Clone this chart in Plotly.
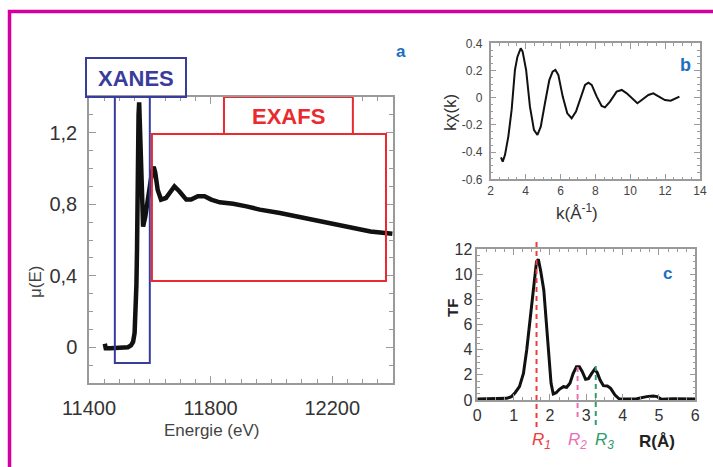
import plotly.graph_objects as go

# ---------------- data ----------------
# panel a : absorption spectrum
energy = [11452, 11455, 11470, 11500, 11520, 11528, 11538, 11545, 11550, 11554, 11556, 11558,
          11560, 11563, 11565, 11567, 11572, 11576, 11578, 11585, 11593, 11600, 11607, 11613,
          11618, 11626, 11637, 11653, 11670, 11681, 11697, 11720, 11736, 11758, 11780, 11802,
          11830, 11874, 11918, 11962, 12028, 12105, 12182, 12260, 12326, 12398]
mu = [0.02, -0.005, -0.005, -0.005, -0.004, 0.0, 0.01, 0.03, 0.08, 0.2, 0.35, 0.55,
      1.07, 1.3, 1.37, 1.24, 0.96, 0.713, 0.675, 0.73, 0.826, 0.9, 0.977, 1.01,
      0.977, 0.88, 0.826, 0.835, 0.873, 0.9, 0.873, 0.826, 0.826, 0.845, 0.845, 0.826,
      0.811, 0.803, 0.788, 0.77, 0.751, 0.723, 0.695, 0.667, 0.648, 0.635]

# panel b : k-weighted EXAFS oscillations
k_vals = [2.59, 2.69, 2.82, 3.01, 3.2, 3.39, 3.53, 3.72, 3.83, 4.03, 4.25, 4.48, 4.68, 4.87,
          5.11, 5.36, 5.55, 5.71, 5.88, 6.13, 6.39, 6.64, 6.89, 7.16, 7.41, 7.6, 7.79, 8.08,
          8.36, 8.55, 8.84, 9.22, 9.51, 9.8, 10.18, 10.41, 10.66, 11.04, 11.32, 11.61, 11.99,
          12.32, 12.57, 12.82]
kchi = [-0.438, -0.47, -0.42, -0.286, -0.09, 0.204, 0.30, 0.363, 0.339, 0.204, -0.066, -0.237,
        -0.274, -0.213, -0.041, 0.13, 0.192, 0.204, 0.167, 0.008, -0.115, -0.151, -0.102, 0.008,
        0.094, 0.111, 0.094, 0.008, -0.061, -0.071, -0.029, 0.045, 0.057, 0.032, -0.017, -0.041,
        -0.017, 0.02, 0.032, 0.013, -0.017, -0.022, -0.009, 0.008]

# panel c : Fourier transform
r_vals = [0, 0.26, 0.53, 0.81, 0.94, 1.04, 1.16, 1.27, 1.36, 1.45, 1.52, 1.56, 1.63, 1.68, 1.74,
          1.83, 1.89, 1.96, 2.03, 2.09, 2.17, 2.26, 2.37, 2.46, 2.55, 2.64, 2.73, 2.81, 2.89,
          2.98, 3.06, 3.15, 3.23, 3.3, 3.38, 3.47, 3.58, 3.67, 3.79, 3.91, 4.11, 4.39, 4.66,
          4.84, 4.95, 5.07, 5.39, 5.67, 6.0]
tf = [0.08, 0.1, 0.08, 0.13, 0.27, 0.58, 1.06, 2.12, 3.98, 6.37, 8.5, 9.69, 11.02, 11.2, 10.35,
      8.76, 6.64, 3.45, 1.33, 0.48, 0.58, 0.85, 1.06, 1.01, 1.33, 2.12, 2.65, 2.65, 2.26,
      1.65, 1.7, 2.12, 2.44, 2.18, 1.59, 1.14, 1.11, 0.93, 0.4, 0.08, 0.08, 0.1, 0.27,
      0.32, 0.27, 0.05, 0.1, 0.08, 0.08]

a_xticks = [11400, 11800, 12200]
a_xticktext = ["11400", "11800", "12200"]
a_yticks = [0, 0.4, 0.8, 1.2]
a_yticktext = ["0", "0,4", "0,8", "1,2"]
b_yticks = [-0.6, -0.4, -0.2, 0, 0.2, 0.4]
b_yticktext = ["-0.6", "-0.4", "-0.2", "0", "0.2", "0.4"]

# shell distances (Å) and label colours
shells = [("R", "1", 1.63, "#ee3b3b"), ("R", "2", 2.76, "#ea6fb4"), ("R", "3", 3.26, "#2e9d6e")]

# region boxes on panel a (eV, mu)
xanes_region = (11485, 11600, -0.088, 1.4)
exafs_region = (11607, 12377, 0.371, 1.193)
exafs_label_region = (11844, 12268, 1.193, 1.4)

W, H = 713, 467
def px(x): return x / W
def py(y): return 1 - y / H

FONT = "Liberation Sans, Arial, sans-serif"
TXT = "#333333"
FRAME = "#9a9a9a"
BLUE_LBL = "#1c6fc0"
XANES_C = "#393c9c"
EXAFS_C = "#ea2a2e"

fig = go.Figure()
fig.add_trace(go.Scatter(x=energy, y=mu, mode="lines", line=dict(color="#111", width=4.5),
                         xaxis="x", yaxis="y", showlegend=False))
fig.add_trace(go.Scatter(x=k_vals, y=kchi, mode="lines", line=dict(color="#111", width=2),
                         xaxis="x2", yaxis="y2", showlegend=False))
fig.add_trace(go.Scatter(x=r_vals, y=tf, mode="lines", line=dict(color="#111", width=3),
                         xaxis="x3", yaxis="y3", showlegend=False))

def axis_common(**kw):
    d = dict(showgrid=False, zeroline=False, showline=True, linecolor=FRAME, linewidth=1.5,
             mirror="ticks", ticks="inside", tickcolor=FRAME, ticklen=6, tickwidth=1,
             automargin=False)
    d.update(kw)
    return d

fig.update_layout(
    template="none",
    width=W, height=H, margin=dict(l=0, r=0, t=0, b=0, pad=0), autosize=False,
    paper_bgcolor="white", plot_bgcolor="white", showlegend=False,
    font=dict(family=FONT, color=TXT),
    xaxis=axis_common(domain=[px(89), px(393)], range=[11400, 12400], anchor="y",
                      tickmode="array", tickvals=a_xticks, ticktext=a_xticktext, ticklen=7,
                      tickfont=dict(size=20, color=TXT), ticklabelstandoff=6,
                      minor=dict(dtick=50, tick0=11400, ticks="inside", ticklen=4, tickcolor=FRAME)),
    yaxis=axis_common(domain=[py(383), py(97)], range=[-0.2, 1.4], anchor="x",
                      tickmode="array", tickvals=a_yticks, ticktext=a_yticktext, ticklen=7,
                      tickfont=dict(size=20, color=TXT), ticklabelstandoff=6,
                      minor=dict(dtick=0.1, tick0=0, ticks="inside", ticklen=4, tickcolor=FRAME)),
    xaxis2=axis_common(domain=[px(490.7), px(700)], range=[2, 14], anchor="y2",
                       tickmode="linear", dtick=2, tick0=2, tickfont=dict(size=12, color="#444"),
                       minor=dict(dtick=0.5, ticks="inside", ticklen=3, tickcolor=FRAME)),
    yaxis2=axis_common(domain=[py(179.3), py(43.3)], range=[-0.6, 0.4], anchor="x2",
                       tickmode="array", tickvals=b_yticks, ticktext=b_yticktext,
                       tickfont=dict(size=12, color="#444"), ticklabelstandoff=4,
                       minor=dict(dtick=0.05, tick0=0, ticks="inside", ticklen=3, tickcolor=FRAME)),
    xaxis3=axis_common(domain=[px(477.3), px(695.3)], range=[0, 6], anchor="y3",
                       tickmode="linear", dtick=1, tick0=0, tickfont=dict(size=16, color=TXT),
                       ticklabelstandoff=0,
                       minor=dict(dtick=0.25, ticks="inside", ticklen=3, tickcolor=FRAME)),
    yaxis3=axis_common(domain=[py(400), py(249.3)], range=[0, 12], anchor="x3",
                       tickmode="linear", dtick=2, tick0=0, tickfont=dict(size=16, color=TXT),
                       ticklabelstandoff=0,
                       minor=dict(dtick=0.5, ticks="inside", ticklen=3, tickcolor=FRAME)),
)

shapes = []
# magenta frame (top and left edges)
shapes.append(dict(type="path", xref="paper", yref="paper",
                   path=f"M {px(9.5)},-0.05 L {px(9.5)},{py(11.5)} L 1.05,{py(11.5)}",
                   line=dict(color="#d3009b", width=3.5)))
# XANES label box + region
shapes.append(dict(type="rect", xref="paper", yref="paper", x0=px(86), x1=px(186), y0=py(97), y1=py(58),
                   line=dict(color=XANES_C, width=2), fillcolor="rgba(0,0,0,0)"))
x0, x1, y0, y1 = xanes_region
shapes.append(dict(type="rect", xref="x", yref="y", x0=x0, x1=x1, y0=y0, y1=y1,
                   line=dict(color=XANES_C, width=2), fillcolor="rgba(0,0,0,0)"))
# EXAFS region + label box
x0, x1, y0, y1 = exafs_region
shapes.append(dict(type="rect", xref="x", yref="y", x0=x0, x1=x1, y0=y0, y1=y1,
                   line=dict(color=EXAFS_C, width=2), fillcolor="rgba(0,0,0,0)"))
x0, x1, y0, y1 = exafs_label_region
shapes.append(dict(type="rect", xref="x", yref="y", x0=x0, x1=x1, y0=y0, y1=y1,
                   line=dict(color=EXAFS_C, width=2), fillcolor="white", layer="above"))
# shell dashed lines (panel c)
dash_ext = [(py(240), py(427)), (py(366), py(417)), (py(364), py(425))]
for (sym, sub, rv, col), (ya, yb) in zip(shells, dash_ext):
    shapes.append(dict(type="line", xref="x3", yref="paper", x0=rv, x1=rv, y0=yb, y1=ya,
                       line=dict(color=col, width=2, dash="5px,4px")))
fig.update_layout(shapes=shapes)

ann = []
def A(text, x, y, size, color=TXT, bold=False, angle=0):
    t = f"<b>{text}</b>" if bold else text
    ann.append(dict(text=t, x=px(x), y=py(y), xref="paper", yref="paper", showarrow=False,
                    xanchor="center", yanchor="middle", textangle=angle,
                    font=dict(size=size, color=color, family=FONT)))

A("XANES", 136, 78, 22, XANES_C, bold=True)
A("EXAFS", 288.5, 116, 22, EXAFS_C, bold=True)
A("a", 401, 52, 17, BLUE_LBL, bold=True)
A("b", 685, 65, 18, BLUE_LBL, bold=True)
A("c", 667, 273, 17, BLUE_LBL, bold=True)
A("Energie (eV)", 211, 430, 17, "#444")
A("μ(E)", 35, 282, 17, "#444", angle=-90)
A("k(Å<sup>-1</sup>)", 577, 212, 17, TXT)
A("kχ(k)", 450, 113, 17, TXT, angle=-90)
A("TF", 452, 308, 15, "#222", bold=True, angle=-90)
A("R(Å)", 657, 441, 17, "#222", bold=True)
label_x = [541.7, 577, 604]
for (sym, sub, rv, col), lx in zip(shells, label_x):
    A(f"<i>{sym}</i><sub><i>{sub}</i></sub>", lx, 441, 17, col)
fig.update_layout(annotations=ann)

fig.write_html("out.html")
